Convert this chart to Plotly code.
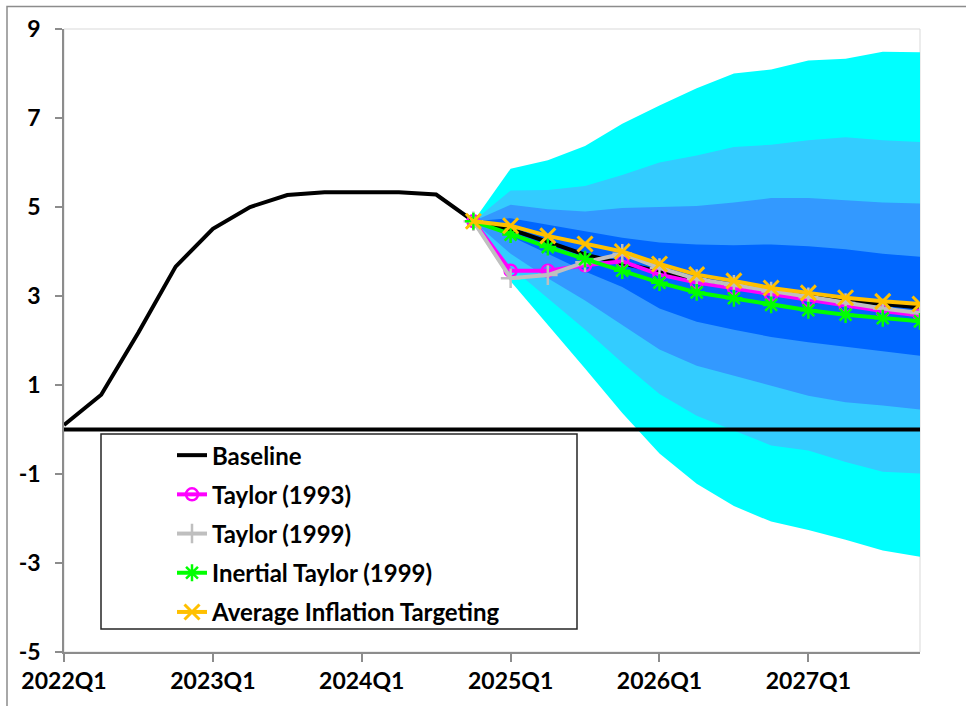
import plotly.graph_objects as go

# Quarterly time axis
quarters = [
    "2022Q1", "2022Q2", "2022Q3", "2022Q4",
    "2023Q1", "2023Q2", "2023Q3", "2023Q4",
    "2024Q1", "2024Q2", "2024Q3", "2024Q4",
    "2025Q1", "2025Q2", "2025Q3", "2025Q4",
    "2026Q1", "2026Q2", "2026Q3", "2026Q4",
    "2027Q1", "2027Q2", "2027Q3", "2027Q4",
]
forecast_quarters = quarters[11:]  # 2024Q4 onward

# Baseline policy rate path (history + forecast)
baseline = [0.10, 0.78, 2.18, 3.66, 4.51, 5.00, 5.27, 5.33, 5.33, 5.33, 5.28, 4.68,
            4.50, 4.22, 3.93, 3.73, 3.55, 3.38, 3.24, 3.11, 3.00, 2.90, 2.81, 2.74]

# Alternative policy rules (from 2024Q4)
taylor_1993 = [4.68, 3.57, 3.57, 3.69, 3.78, 3.48, 3.30, 3.17, 3.03, 2.90, 2.78, 2.66, 2.56]
taylor_1999 = [4.68, 3.40, 3.47, 3.76, 3.95, 3.63, 3.38, 3.25, 3.10, 2.97, 2.84, 2.72, 2.62]
inertial_taylor_1999 = [4.68, 4.38, 4.10, 3.83, 3.57, 3.30, 3.08, 2.95, 2.80, 2.68, 2.58, 2.50, 2.43]
avg_inflation_targeting = [4.68, 4.58, 4.35, 4.17, 4.00, 3.72, 3.48, 3.34, 3.18, 3.07, 2.96, 2.88, 2.82]

# Fan chart bounds (outer to inner)
band90_upper = [4.68, 5.86, 6.05, 6.37, 6.87, 7.28, 7.67, 8.00, 8.09, 8.29, 8.33, 8.49, 8.48]
band90_lower = [4.68, 3.33, 2.34, 1.37, 0.37, -0.54, -1.22, -1.72, -2.07, -2.26, -2.48, -2.72, -2.86]
band70_upper = [4.68, 5.37, 5.38, 5.47, 5.72, 6.00, 6.16, 6.35, 6.40, 6.50, 6.57, 6.50, 6.46]
band70_lower = [4.68, 3.65, 2.95, 2.25, 1.50, 0.80, 0.31, -0.02, -0.36, -0.47, -0.73, -0.95, -0.99]
band50_upper = [4.68, 5.05, 4.95, 4.90, 4.98, 5.00, 5.02, 5.10, 5.20, 5.20, 5.15, 5.10, 5.08]
band50_lower = [4.68, 3.95, 3.40, 2.90, 2.35, 1.80, 1.43, 1.21, 0.98, 0.76, 0.61, 0.54, 0.45]
band30_upper = [4.68, 4.75, 4.60, 4.45, 4.31, 4.20, 4.16, 4.14, 4.16, 4.12, 4.05, 3.95, 3.88]
band30_lower = [4.68, 4.34, 3.95, 3.55, 3.20, 2.72, 2.42, 2.24, 2.08, 1.96, 1.86, 1.76, 1.66]

band_colors = ["#00FFFF", "#33CCFF", "#3399FF", "#0066FF"]

y_tick_vals = [9, 7, 5, 3, 1, -1, -3, -5]
y_tick_text = ["9", "7", "5", "3", "1", "-1", "-3", "-5"]
x_tick_vals = quarters[::4]

FONT = "Lato, 'Open Sans', Arial, sans-serif"

fig = go.Figure()

bands = [
    (band90_upper, band90_lower),
    (band70_upper, band70_lower),
    (band50_upper, band50_lower),
    (band30_upper, band30_lower),
]
for (upper, lower), color in zip(bands, band_colors):
    fig.add_trace(go.Scatter(
        x=forecast_quarters + forecast_quarters[::-1],
        y=upper + lower[::-1],
        fill="toself", fillcolor=color,
        mode="lines", line=dict(width=0, color=color),
        showlegend=False, hoverinfo="skip",
    ))

fig.add_trace(go.Scatter(
    x=quarters, y=baseline, name="Baseline", mode="lines",
    line=dict(color="black", width=4), legendgroup="a",
))
fig.add_trace(go.Scatter(
    x=forecast_quarters, y=taylor_1993, name="Taylor (1993)", mode="lines+markers",
    line=dict(color="#FF00FF", width=4),
    marker=dict(symbol="circle-open", size=12, color="#FF00FF", line=dict(width=2.5)),
    legendgroup="b",
))
fig.add_trace(go.Scatter(
    x=forecast_quarters, y=taylor_1999, name="Taylor (1999)", mode="lines+markers",
    line=dict(color="#BFBFBF", width=4),
    marker=dict(symbol="cross-thin-open", size=14, color="#BFBFBF", line=dict(width=2.5, color="#BFBFBF")),
    legendgroup="c",
))
fig.add_trace(go.Scatter(
    x=forecast_quarters, y=inertial_taylor_1999, name="Inertial Taylor (1999)", mode="lines+markers",
    line=dict(color="#00FF00", width=4),
    marker=dict(symbol="asterisk-open", size=14, color="#00FF00", line=dict(width=2.5, color="#00FF00")),
    legendgroup="d",
))
fig.add_trace(go.Scatter(
    x=forecast_quarters, y=avg_inflation_targeting, name="Average Inflation Targeting", mode="lines+markers",
    line=dict(color="#FFC000", width=4),
    marker=dict(symbol="x-thin-open", size=15, color="#FFC000", line=dict(width=3, color="#FFC000")),
    legendgroup="e",
))

# Plot-area geometry in pixels, used to place paper-referenced shapes
W, H = 966, 706
ML, MR, MT, MB = 64, 46, 29, 51
PW, PH = W - ML - MR, H - MT - MB


def px_x(x):
    return (x - ML) / PW


def px_y(y):
    return (H - MB - y) / PH


shapes = [
    # light plot-area frame
    dict(type="rect", xref="paper", yref="paper", x0=0, x1=1, y0=0, y1=1,
         line=dict(color="#D9D9D9", width=1), layer="below"),
    # outer chart frame
    dict(type="rect", xref="paper", yref="paper", x0=px_x(7), x1=px_x(1000), y0=px_y(760), y1=px_y(6.5),
         line=dict(color="#8C8C8C", width=1.5), layer="below"),
    # zero line
    dict(type="line", xref="paper", yref="y", x0=0, x1=1, y0=0, y1=0,
         line=dict(color="black", width=4), layer="above"),
    # legend box
    dict(type="rect", xref="paper", yref="paper", x0=px_x(101), x1=px_x(577), y0=px_y(632), y1=px_y(436),
         line=dict(color="#262626", width=1.5), fillcolor="white", layer="above"),
]

fig.update_layout(
    width=W, height=H,
    margin=dict(l=ML, r=MR, t=MT, b=MB),
    paper_bgcolor="white", plot_bgcolor="white",
    font=dict(family=FONT, size=23, color="black", weight="bold"),
    shapes=shapes,
    showlegend=True,
    legend=dict(
        x=px_x(172), y=px_y(435), xanchor="left", yanchor="top",
        bgcolor="rgba(0,0,0,0)", borderwidth=0,
        font=dict(family=FONT, size=24, color="black", weight="bold"),
        tracegroupgap=5, itemwidth=30,
    ),
    xaxis=dict(
        type="category", categoryorder="array", categoryarray=quarters,
        range=[0, len(quarters) - 1],
        tickmode="array", tickvals=x_tick_vals,
        showgrid=False, zeroline=False,
        showline=True, linecolor="#8C8C8C", linewidth=1.5,
        ticks="outside", ticklen=8, tickcolor="#8C8C8C", tickwidth=1.5,
        tickfont=dict(family=FONT, size=23, color="black", weight="bold"),
    ),
    yaxis=dict(
        range=[-5, 9], tickmode="array", tickvals=y_tick_vals, ticktext=y_tick_text,
        showgrid=False, zeroline=False,
        showline=True, linecolor="#8C8C8C", linewidth=1.5,
        ticks="outside", ticklen=7, tickcolor="#8C8C8C", tickwidth=1.5,
        tickfont=dict(family=FONT, size=23, color="black", weight="bold"),
        ticklabelstandoff=10,
    ),
)

fig.write_html("out.html")
